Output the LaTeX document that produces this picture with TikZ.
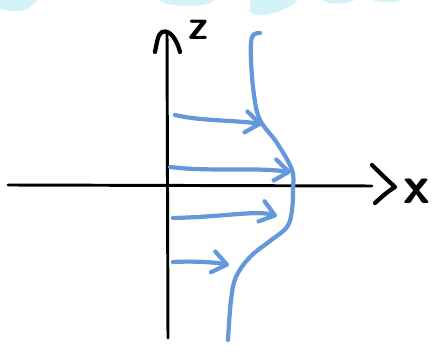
\documentclass[tikz,border=0pt]{standalone}
\usetikzlibrary{arrows.meta}
\definecolor{flowblue}{RGB}{100,152,220}
\definecolor{washcyan}{RGB}{212,243,248}
\begin{document}
\begin{tikzpicture}[x=0.025cm,y=-0.025cm,
    axis/.style={black,line width=2.1pt,line cap=round},
    tip/.style={black,line width=3pt,line cap=round,line join=round},
    prof/.style={flowblue,line width=3pt,line cap=round,line join=round},
    flow/.style={prof,-{Straight Barb[length=10pt,width=15pt,round]}},
    lab/.style={font=\sffamily\bfseries,inner sep=0pt}]
  \useasboundingbox (0,0) rectangle (441,352);
  %-------------------------------------------------- wash at the top edge
  \fill[washcyan] (0,0) -- (0,8) .. controls (2,11) and (10,11) .. (20,11)
    .. controls (28,10) and (33,5) .. (38,0) -- cycle;
  \fill[washcyan] (160,0) .. controls (165,5) and (175,6) .. (190,6)
    .. controls (205,6) and (212,3) .. (215,0) -- cycle;
  \fill[washcyan] (250,0) -- (250,11) .. controls (251,15) and (258,15) .. (265,15)
    .. controls (280,13) and (292,6) .. (298,0) -- cycle;
  \fill[washcyan] (322,0) .. controls (330,5) and (345,5) .. (355,0) -- cycle;
  \fill[washcyan] (372,0) .. controls (380,3) and (395,3) .. (402,0) -- cycle;
  %-------------------------------------------------- axes
  \coordinate (xl) at (8,185);
  \coordinate (xr) at (372,186);
  \coordinate (zt) at (167,32);
  \coordinate (zb) at (168,338);
  \draw[axis] (xl) -- (xr);
  \draw[axis] (zb) -- (zt);
  \draw[tip] (372,165) .. controls (382,175) .. (395,187)
    .. controls (386,193) .. (375,203);
  \draw[tip] (155,52) .. controls (157,42) and (158,34) .. (162,32)
    .. controls (170,29) and (177,40) .. (180,52);
  \node[lab,font=\sffamily\bfseries\fontsize{38}{38}\selectfont] (xlab) at (417,191) {x};
  \node[lab,font=\sffamily\bfseries\fontsize{30}{30}\selectfont] (zlab) at (199,30) {z};
  %-------------------------------------------------- velocity profile
  \draw[prof] plot[smooth,tension=0.6] coordinates {(260,33) (252,37) (251,60)
    (254,95) (260,120) (277,143) (292,170) (293,190) (292,210) (287,227)
    (270,241) (250,257) (236,277) (231,300) (228,340)};
  % arrows from the axis out to the profile
  \coordinate (s1) at (175,115); \coordinate (t1) at (262,124);
  \coordinate (s2) at (170,167); \coordinate (t2) at (291,172);
  \coordinate (s3) at (173,218); \coordinate (t3) at (277,216);
  \coordinate (s4) at (173,262); \coordinate (t4) at (229,265);
  \draw[flow] (s1) .. controls +(25,6) and +(-30,-4) .. (t1);
  \draw[flow] (s2) .. controls +(40,5) and +(-40,-5) .. (t2);
  \draw[flow] (s3) .. controls +(50,-1) and +(-20,-6) .. (t3);
  \draw[flow] (s4) .. controls +(20,-1) and +(-15,-3) .. (t4);
\end{tikzpicture}
\end{document}
